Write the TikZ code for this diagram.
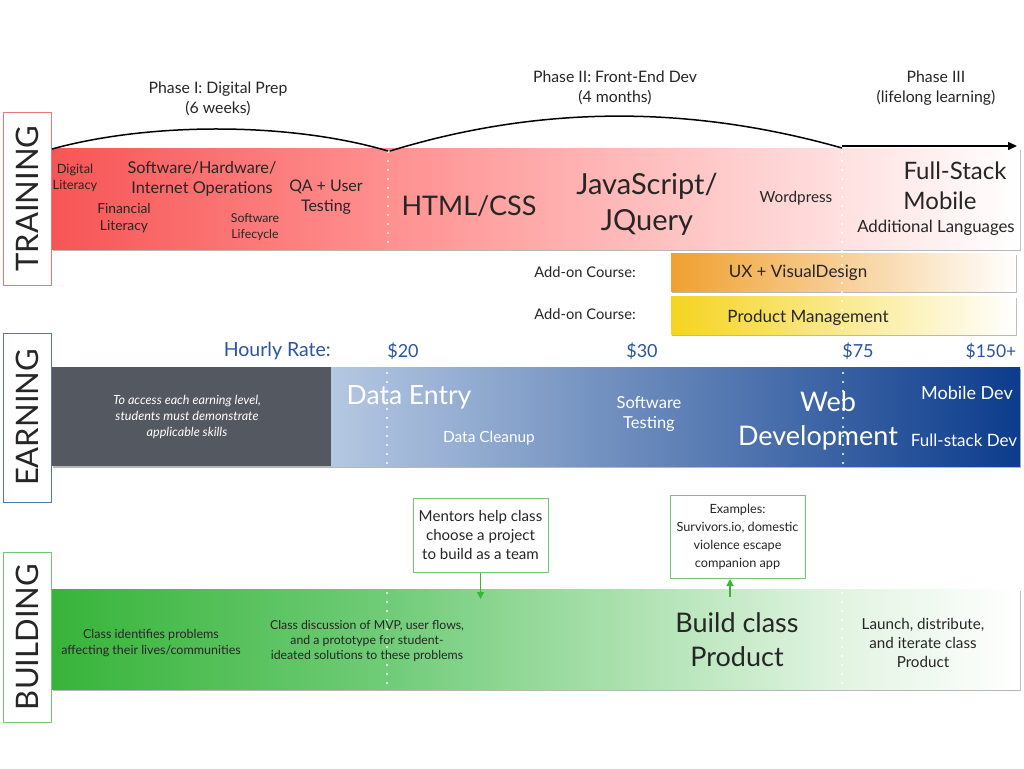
\documentclass[tikz,border=0pt]{standalone}
\usepackage{fontspec}
\setmainfont{Lato}
\usetikzlibrary{arrows.meta}
\newcommand{\myfs}[1]{\fontsize{#1}{\fpeval{1.25*#1}}\selectfont}
\definecolor{trA}{HTML}{F75555}
\definecolor{trB}{HTML}{FF9090}
\definecolor{trC}{HTML}{FFE0E0}
\definecolor{bdA}{HTML}{38B43A}
\definecolor{bdB}{HTML}{70CC78}
\definecolor{bdC}{HTML}{E2F4E2}
\definecolor{erA}{HTML}{B5C8E2}
\definecolor{erB}{HTML}{0C3C8C}
\definecolor{ergray}{HTML}{545860}
\definecolor{rateblue}{HTML}{2A55A0}
\definecolor{uxor}{HTML}{F0A030}
\definecolor{pmyel}{HTML}{F5D420}
\definecolor{redframe}{HTML}{E87878}
\definecolor{blueframe}{HTML}{4A78B8}
\definecolor{greenframe}{HTML}{70C870}
\definecolor{callgreen}{HTML}{3CB43C}
\tikzset{
  txt/.style={inner sep=0pt, align=center, text=black!85},
  wtxt/.style={inner sep=0pt, align=center, text=white},
  sidebox/.style={draw, line width=0.8pt, fill=white, minimum width=48pt, inner sep=0pt},
  sidelbl/.style={rotate=90, inner sep=0pt, font=\myfs{31}, text=black!85},
  shadowbar/.style={fill=black!28},
  dotline/.style={white, line width=2.2pt, line cap=round, dash pattern=on 0pt off 9pt},
  callout/.style={draw=greenframe, line width=1pt, fill=white, align=center, inner sep=4pt, text=black!85},
  callarrow/.style={draw=callgreen, line width=1.5pt, -{Triangle[length=7pt,width=7pt]}},
  phase/.style={inner sep=0pt, align=center, font=\myfs{15.8}, text=black!85},
}
\begin{document}
\begin{tikzpicture}[x=1pt,y=-1pt]
\useasboundingbox (0,0) rectangle (1024,768);
\fill[white] (0,0) rectangle (1024,768);

% ---------------- side labels
\node[sidebox, draw=redframe, minimum height=173pt] (trbox) at (27,198.5) {};
\node[sidelbl] (trlbl) at (trbox.center) {TRAINING};
\node[sidebox, draw=blueframe, minimum height=169pt] (erbox) at (27.5,417.5) {};
\node[sidelbl] (erlbl) at (erbox.center) {EARNING};
\node[sidebox, draw=greenframe, minimum height=170pt] (bdbox) at (27.5,637) {};
\node[sidelbl] (bdlbl) at (bdbox.center) {BUILDING};

% ---------------- training band
\fill[shadowbar] (53,150) rectangle (1021,251);
\shade[left color=trA, right color=trB] (52,148) rectangle (388.5,249);
\shade[left color=trB, right color=trC] (388,148) rectangle (842.5,249);
\shade[left color=trC, right color=white] (842,148) rectangle (1020,249);
\draw[dotline] (388,152) -- (388,248);
\draw[dotline] (842,152) -- (842,334);

% arcs
\coordinate (a0) at (52,149);
\coordinate (a1) at (388,151);
\coordinate (a2) at (842,148);
\coordinate (a3) at (1017,146);
\draw[line width=1.5pt] (a0) .. controls (150,122) and (290,122) .. (a1);
\draw[line width=1.5pt] (390,151) .. controls (540,105) and (690,105) .. (a2);
\draw[line width=1.5pt, -{Triangle[length=9pt,width=8pt]}] (842,146) -- (a3);

\node[phase] (ph1) at (218,99) {Phase I: Digital Prep\\(6 weeks)};
\node[phase] (ph2) at (615,88) {Phase II: Front-End Dev\\(4 months)};
\node[phase] (ph3) at (936,88) {Phase III\\(lifelong learning)};

\node[txt, font=\myfs{12.8}] (t1) at (75,178) {Digital\\Literacy};
\node[txt, font=\myfs{13.8}] (t2) at (124,218) {Financial\\Literacy};
\node[txt, font=\myfs{16.3}] (t3) at (202,179) {Software/Hardware/\\Internet Operations};
\node[txt, font=\myfs{12.3}] (t4) at (255,227) {Software\\Lifecycle};
\node[txt, font=\myfs{16}] (t5) at (326,197) {QA + User\\Testing};
\node[txt, font=\myfs{27}] (t6) at (469,206) {HTML/CSS};
\node[txt, font=\myfs{29}] (t7) at (647,204) {JavaScript/\\JQuery};
\node[txt, font=\myfs{15.3}] (t8) at (796,198) {Wordpress};
\node[txt, font=\myfs{24}] (t9) at (940,186) {\hspace*{30pt}Full-Stack\\Mobile};
\node[txt, font=\myfs{16.8}] (t10) at (936,228) {Additional Languages};

% ---------------- add-on courses
\fill[shadowbar] (672,255) rectangle (1017,293);
\shade[left color=uxor, right color=white] (671,253) rectangle (1016,291);
\fill[shadowbar] (672,298) rectangle (1017,336);
\shade[left color=pmyel, right color=white] (671,296) rectangle (1016,334);
\draw[dotline] (842,256) -- (842,334);
\node[txt, font=\myfs{14.7}] (ao1) at (585,272) {Add-on Course:};
\node[txt, font=\myfs{14.7}] (ao2) at (585,314) {Add-on Course:};
\node[txt, font=\myfs{17}] (ux) at (798,273) {UX + VisualDesign};
\node[txt, font=\myfs{17}] (pm) at (808,318) {Product Management};

% ---------------- earning
\node[txt, font=\myfs{19.5}, text=rateblue, anchor=east] (hr) at (331,351) {Hourly Rate:};
\node[txt, font=\myfs{18}, text=rateblue] (r20) at (403,351) {\$20};
\node[txt, font=\myfs{18}, text=rateblue] (r30) at (642,351) {\$30};
\node[txt, font=\myfs{18}, text=rateblue] (r75) at (858,351) {\$75};
\node[txt, font=\myfs{17.5}, text=rateblue] (r150) at (991,351) {\$150+};

\fill[shadowbar] (53,369) rectangle (1021,468);
\fill[ergray] (52,367) rectangle (331.5,466);
\shade[left color=erA, right color=erB] (331,367) rectangle (1020,466);
\draw[dotline] (387,373) -- (387,466);
\draw[dotline] (843,373) -- (843,466);

\node[wtxt, font=\myfs{12.6}\itshape] (e0) at (187,417) {To access each earning level,\\students must demonstrate\\applicable skills};
\node[wtxt, font=\myfs{26.5}] (e1) at (409,397) {Data Entry};
\node[wtxt, font=\myfs{15.4}] (e2) at (489,438) {Data Cleanup};
\node[wtxt, font=\myfs{16.5}] (e3) at (649,414) {Software\\Testing};
\node[wtxt, font=\myfs{27}] (e4) at (818,421) {\hspace*{20pt}Web\\Development};
\node[wtxt, font=\myfs{18}] (e5) at (967,393) {Mobile Dev};
\node[wtxt, font=\myfs{17}] (e6) at (964,440) {Full-stack Dev};

% ---------------- building
\fill[shadowbar] (53,591) rectangle (1021,691);
\shade[left color=bdA, right color=bdB] (52,589) rectangle (388.5,689);
\shade[left color=bdB, right color=bdC] (388,589) rectangle (842.5,689);
\shade[left color=bdC, right color=white] (842,589) rectangle (1020,689);
\draw[dotline] (387,593) -- (387,689);
\draw[dotline] (842,593) -- (842,689);

\node[txt, font=\myfs{12.5}] (b1) at (151,643) {Class identifies problems\\affecting their lives/communities};
\node[txt, font=\myfs{12.3}] (b2) at (367,641) {Class discussion of MVP, user flows,\\and a prototype for student-\\ideated solutions to these problems};
\node[txt, font=\myfs{27}] (b3) at (737,640) {Build class\\Product};
\node[txt, font=\myfs{15.2}] (b4) at (923,643) {Launch, distribute,\\and iterate class\\Product};

% callouts
\node[callout, font=\myfs{15.1}, minimum width=135pt, minimum height=74pt] (mentors) at (480.5,535) {Mentors help class\\choose a project\\to build as a team};
\coordinate (mentorsend) at (480.5,599);
\draw[callarrow] (mentors.south) -- (mentorsend);
\node[callout, font={\fontsize{12.7}{18}\selectfont}, minimum width=135pt, minimum height=83pt] (examples) at (737.5,537) {Examples:\\Survivors.io, domestic\\violence escape\\companion app};
\coordinate (examplesstart) at (730,597);
\draw[callarrow] (examplesstart) -- (examplesstart |- examples.south);
\end{tikzpicture}
\end{document}
